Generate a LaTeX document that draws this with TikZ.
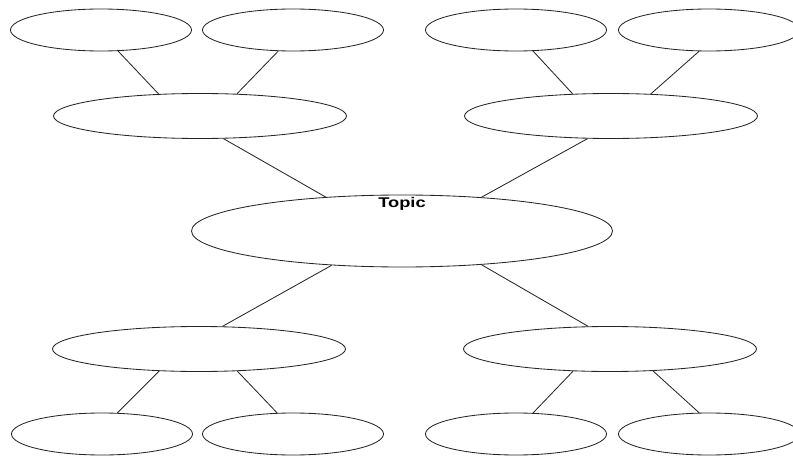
\documentclass[tikz,border=0pt]{standalone}
\usepackage{fontspec}
\setmainfont{Liberation Sans}
\usetikzlibrary{shapes.geometric,positioning}

\begin{document}
\begin{tikzpicture}[node distance=2.15cm]
        \tikzstyle{sujet} = [ellipse, minimum width=10.525cm, minimum height=1.8cm, inner sep=0pt, draw=black!85, line width=0.6pt]
        \tikzstyle{idee} = [ellipse, minimum width=7.325cm, minimum height=1.125cm, inner sep=0pt, draw=black!85, line width=0.6pt]
        \tikzstyle{detail} = [ellipse, minimum width=4.525cm, minimum height=1.05cm, inner sep=0pt, draw=black!85, line width=0.6pt]
        \tikzstyle{titre} = [inner sep=0pt, font=\bfseries\fontsize{10}{12}\selectfont]
        \tikzstyle{lien} = [draw=black!85, line width=0.6pt]
        \useasboundingbox (-10.05,-5.625) rectangle (9.775,5.775);

        \node (sujet) [sujet] at (0,0) {};
        \node (titre_sujet) [titre, below=0.06cm of sujet.north] {\scalebox{1.3}[1]{Topic}};

        \node (idee_hg) [idee, above of=sujet, xshift=-5.05cm, yshift=0.725cm] {};
        \node (idee_hd) [idee, above of=sujet, xshift=5.225cm, yshift=0.725cm] {};
        \node (idee_bg) [idee, below of=sujet, xshift=-5.075cm, yshift=-0.8cm] {};
        \node (idee_bd) [idee, below of=sujet, xshift=5.2cm, yshift=-0.8cm] {};

        \node (detail_hg1) [detail, above of=idee_hg, xshift=-2.475cm] {};
        \node (detail_hg2) [detail, above of=idee_hg, xshift=2.325cm] {};
        \node (detail_hd1) [detail, above of=idee_hd, xshift=-2.375cm] {};
        \node (detail_hd2) [detail, above of=idee_hd, xshift=2.45cm] {};
        \node (detail_bg1) [detail, below of=idee_bg, xshift=-2.425cm, yshift=0.025cm] {};
        \node (detail_bg2) [detail, below of=idee_bg, xshift=2.35cm, yshift=0.025cm] {};
        \node (detail_bd1) [detail, below of=idee_bd, xshift=-2.35cm, yshift=0.025cm] {};
        \node (detail_bd2) [detail, below of=idee_bd, xshift=2.475cm, yshift=0.025cm] {};

        \draw[lien] (detail_hg1.-51) -- (idee_hg.152);
        \draw[lien] (detail_hg2.-125) -- (idee_hg.31);
        \draw[lien] (detail_hd1.-51) -- (idee_hd.150);
        \draw[lien] (detail_hd2.-115) -- (idee_hd.29);
        \draw[lien] (idee_hg.-44) -- (sujet.156);
        \draw[lien] (idee_hd.-136) -- (sujet.23);
        \draw[lien] (sujet.-154) -- (idee_bg.44);
        \draw[lien] (sujet.-23) -- (idee_bd.134);
        \draw[lien] (idee_bg.-151) -- (detail_bg1.54);
        \draw[lien] (idee_bg.-30) -- (detail_bg2.127);
        \draw[lien] (idee_bd.-149) -- (detail_bd1.51);
        \draw[lien] (idee_bd.-27) -- (detail_bd2.115);
    \end{tikzpicture}
\end{document}
